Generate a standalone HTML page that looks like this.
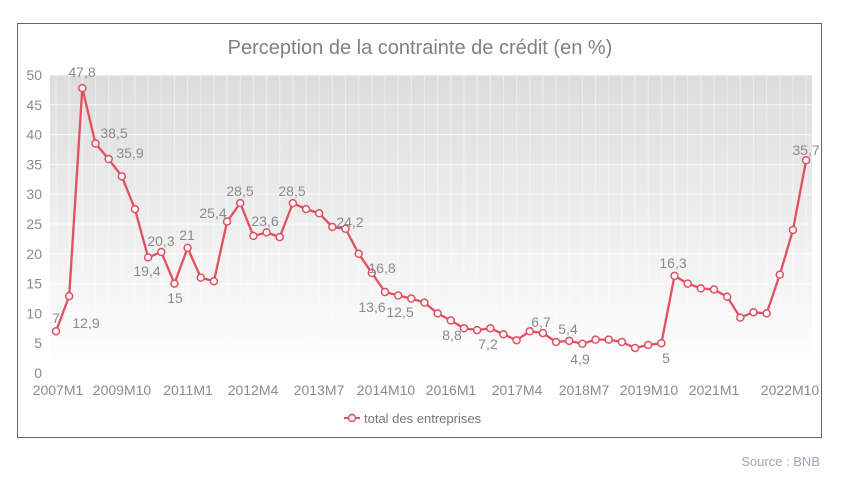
<!DOCTYPE html>
<html><head><meta charset="utf-8"><style>
html,body{margin:0;padding:0;background:#fff;width:847px;height:484px;overflow:hidden}
svg text{font-family:"Liberation Sans","DejaVu Sans",sans-serif}
</style></head><body>
<svg width="847" height="484" xmlns="http://www.w3.org/2000/svg">
<defs>
<linearGradient id="g" x1="0" y1="0" x2="0" y2="1">
<stop offset="0" stop-color="#dcdcdc"/><stop offset="1" stop-color="#ffffff"/>
</linearGradient>
</defs>
<rect x="17.5" y="23.5" width="804" height="414" fill="#fff" stroke="#666" stroke-width="1"/>
<text x="420" y="54" font-size="20" fill="#808080" text-anchor="middle">Perception de la contrainte de crédit (en %)</text>
<rect x="50" y="75" width="762" height="298" fill="url(#g)"/>
<g id="grid" stroke="#fff" stroke-width="1" opacity="0.8"></g>
<g font-size="14" fill="#8a8a8a" text-anchor="end" id="ylab"></g>
<g font-size="14" fill="#8a8a8a" text-anchor="middle">
<text x="58" y="395">2007M1</text><text x="122" y="395">2009M10</text><text x="188" y="395">2011M1</text>
<text x="253" y="395">2012M4</text><text x="319" y="395">2013M7</text><text x="386" y="395">2014M10</text>
<text x="451" y="395">2016M1</text><text x="517" y="395">2017M4</text><text x="584" y="395">2018M7</text>
<text x="649" y="395">2019M10</text><text x="714" y="395">2021M1</text><text x="790" y="395">2022M10</text>
</g>
<polyline id="line" fill="none" stroke="#e05060" stroke-width="2.3" stroke-linejoin="round"/>
<g id="pts"></g>
<g font-size="14" fill="#8a8a8a" text-anchor="middle">
<text x="82" y="77">47,8</text><text x="56" y="323">7</text><text x="86" y="328">12,9</text>
<text x="114" y="138">38,5</text><text x="130" y="158">35,9</text><text x="147" y="276">19,4</text>
<text x="161" y="246">20,3</text><text x="187" y="240">21</text><text x="175" y="303">15</text>
<text x="213" y="218">25,4</text><text x="240" y="196">28,5</text><text x="265" y="226">23,6</text>
<text x="292" y="196">28,5</text><text x="350" y="227">24,2</text><text x="382" y="273">16,8</text>
<text x="372" y="312">13,6</text><text x="400" y="317">12,5</text><text x="452" y="340">8,8</text>
<text x="488" y="349">7,2</text><text x="541" y="327">6,7</text><text x="568" y="334">5,4</text>
<text x="580" y="364">4,9</text><text x="666" y="363">5</text><text x="673" y="268">16,3</text>
<text x="806" y="155">35,7</text>
</g>
<line x1="344" y1="418" x2="360" y2="418" stroke="#e05060" stroke-width="2"/>
<circle cx="352" cy="418" r="3.5" fill="#fff" stroke="#e05060" stroke-width="1.5"/>
<text x="364" y="423" font-size="13" fill="#777">total des entreprises</text>
<text x="820" y="466" font-size="13" fill="#9aa8b8" text-anchor="end">Source : BNB</text>
</svg>
<script>
var v=[7,12.9,47.8,38.5,35.9,33,27.5,19.4,20.3,15,21,16,15.4,25.4,28.5,23,23.6,22.8,28.5,27.5,26.8,24.5,24.2,20,16.8,13.6,13,12.5,11.8,10,8.8,7.5,7.2,7.5,6.5,5.5,7,6.7,5.2,5.4,4.9,5.6,5.6,5.2,4.2,4.7,5,16.3,15,14.2,14,12.8,9.3,10.2,10,16.5,24,35.7];
var ns="http://www.w3.org/2000/svg",s="",pts=document.getElementById("pts");
for(var i=0;i<v.length;i++){var x=56+13.16*i,y=373-v[i]*5.96;s+=x+","+y+" ";
var c=document.createElementNS(ns,"circle");c.setAttribute("cx",x);c.setAttribute("cy",y);c.setAttribute("r",3.5);c.setAttribute("fill","#fff");c.setAttribute("stroke","#e05060");c.setAttribute("stroke-width","1.5");pts.appendChild(c);}
document.getElementById("line").setAttribute("points",s);
var g=document.getElementById("grid"),yl=document.getElementById("ylab");
for(var k=0;k<=10;k++){var y=373-k*29.8;var l=document.createElementNS(ns,"line");l.setAttribute("x1",50);l.setAttribute("x2",812);l.setAttribute("y1",y);l.setAttribute("y2",y);g.appendChild(l);
var t=document.createElementNS(ns,"text");t.setAttribute("x",42);t.setAttribute("y",y+5);t.textContent=k*5;yl.appendChild(t);}
for(var x=56;x<812;x+=13.16){var l=document.createElementNS(ns,"line");l.setAttribute("x1",x);l.setAttribute("x2",x);l.setAttribute("y1",75);l.setAttribute("y2",373);l.setAttribute("opacity","0.6");g.appendChild(l);}
</script>
</body></html>
